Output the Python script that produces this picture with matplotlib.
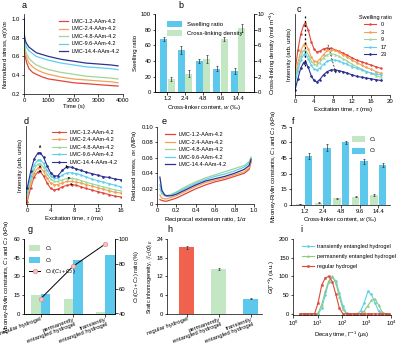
import matplotlib
matplotlib.use("Agg")
import matplotlib.pyplot as plt
import numpy as np

plt.rcParams['font.family'] = ['Liberation Sans', 'DejaVu Sans']
plt.rcParams['font.size'] = 4.3
plt.rcParams['axes.linewidth'] = 0.5
plt.rcParams['mathtext.fontset'] = 'custom'
plt.rcParams['mathtext.rm'] = 'Liberation Sans'
plt.rcParams['mathtext.it'] = 'Liberation Sans:italic'

# ---------------- data ----------------
colors5 = ['#E0463A', '#F4A259', '#9FD49A', '#5ED0EE', '#2E3192']
lmc_labels = ['LMC-1.2-AAm-4.2', 'LMC-2.4-AAm-4.2', 'LMC-4.8-AAm-4.2',
              'LMC-9.6-AAm-4.2', 'LMC-14.4-AAm-4.2']
crosslinker = ['1.2', '2.4', '4.8', '9.6', '14.4']

# (a) stress relaxation
t_a = [0, 5, 20, 50, 100, 200, 350, 500, 750, 1000, 1500, 2000, 2500, 3000, 3500, 3800]
a_12 = [1.0, 0.78, 0.68, 0.60, 0.54, 0.47, 0.43, 0.41, 0.38, 0.36, 0.34, 0.32, 0.31, 0.30, 0.29, 0.285]
a_24 = [1.0, 0.80, 0.71, 0.64, 0.59, 0.53, 0.49, 0.46, 0.43, 0.41, 0.38, 0.36, 0.35, 0.34, 0.33, 0.32]
a_48 = [1.0, 0.82, 0.75, 0.68, 0.63, 0.58, 0.54, 0.51, 0.48, 0.46, 0.43, 0.41, 0.39, 0.38, 0.37, 0.36]
a_96 = [1.0, 0.85, 0.80, 0.74, 0.70, 0.66, 0.63, 0.60, 0.58, 0.56, 0.53, 0.51, 0.49, 0.48, 0.47, 0.46]
a_144 = [1.0, 0.87, 0.82, 0.77, 0.74, 0.70, 0.67, 0.64, 0.62, 0.60, 0.57, 0.55, 0.53, 0.52, 0.51, 0.50]

# (b) swelling ratio & cross-linking density
swelling = [68, 54, 40, 30, 27]
swelling_err = [3, 5, 3, 3, 4]
xlink_density = [1.7, 2.4, 4.3, 6.8, 8.2]
xlink_err = [0.2, 0.4, 0.5, 0.3, 0.5]

# (c) NMR intensity vs swelling ratio
tau_c = [0, 0.6, 1.2, 1.8, 2.2, 2.8, 3.4, 4.0, 4.6, 5.2, 6.0, 6.8, 7.6, 8.4,
         9.2, 10.0, 11.0, 12.0, 13.0, 14.0, 15.0, 16.0, 17.0, 18.0]
c_sr0 = [0.29, 0.55, 0.75, 0.86, 0.89, 0.80, 0.66, 0.57, 0.53, 0.54, 0.57, 0.58, 0.575, 0.56,
         0.54, 0.52, 0.49, 0.46, 0.43, 0.41, 0.39, 0.37, 0.35, 0.33]
c_sr3 = [0.22, 0.40, 0.54, 0.62, 0.64, 0.57, 0.47, 0.42, 0.41, 0.44, 0.50, 0.55, 0.56, 0.55,
         0.53, 0.50, 0.47, 0.43, 0.40, 0.37, 0.34, 0.32, 0.29, 0.27]
c_sr9 = [0.185, 0.35, 0.48, 0.55, 0.56, 0.50, 0.42, 0.38, 0.37, 0.40, 0.46, 0.50, 0.51, 0.50,
         0.48, 0.45, 0.42, 0.38, 0.35, 0.32, 0.29, 0.27, 0.24, 0.22]
c_sr17 = [0.14, 0.30, 0.43, 0.50, 0.51, 0.45, 0.37, 0.32, 0.31, 0.33, 0.38, 0.42, 0.43, 0.43,
          0.42, 0.40, 0.38, 0.35, 0.33, 0.31, 0.29, 0.27, 0.26, 0.25]
c_sr23 = [0.06, 0.20, 0.33, 0.40, 0.41, 0.34, 0.24, 0.18, 0.16, 0.19, 0.25, 0.29, 0.31, 0.31,
          0.30, 0.29, 0.27, 0.25, 0.23, 0.22, 0.21, 0.20, 0.19, 0.18]
swelling_labels = ['0', '3', '9', '17', '23']

# (d) NMR intensity vs cross-linker
tau_d = [0, 0.6, 1.2, 1.8, 2.2, 2.8, 3.4, 4.0, 4.6, 5.2, 6.0, 6.8, 7.6, 8.4,
         9.2, 10.0, 11.0, 12.0, 13.0, 14.0, 15.0, 16.0]
d_12 = [0.03, 0.21, 0.35, 0.41, 0.42, 0.36, 0.27, 0.20, 0.18, 0.19, 0.22, 0.24, 0.25, 0.24,
        0.22, 0.20, 0.18, 0.16, 0.14, 0.12, 0.10, 0.09]
d_24 = [0.08, 0.27, 0.40, 0.46, 0.47, 0.42, 0.33, 0.27, 0.25, 0.25, 0.27, 0.29, 0.29, 0.28,
        0.27, 0.25, 0.23, 0.21, 0.19, 0.17, 0.15, 0.14]
d_48 = [0.12, 0.31, 0.45, 0.51, 0.52, 0.47, 0.38, 0.32, 0.29, 0.29, 0.31, 0.33, 0.33, 0.32,
        0.30, 0.28, 0.26, 0.24, 0.22, 0.20, 0.18, 0.17]
d_96 = [0.16, 0.36, 0.50, 0.56, 0.57, 0.52, 0.43, 0.36, 0.33, 0.33, 0.37, 0.40, 0.40, 0.39,
        0.37, 0.35, 0.32, 0.30, 0.28, 0.26, 0.24, 0.22]
d_144 = [0.20, 0.42, 0.58, 0.65, 0.66, 0.60, 0.49, 0.40, 0.36, 0.36, 0.43, 0.48, 0.47, 0.45,
         0.43, 0.41, 0.39, 0.37, 0.35, 0.34, 0.32, 0.31]

# (e) Mooney-Rivlin plot
x_e = [0.03, 0.05, 0.08, 0.1, 0.15, 0.2, 0.3, 0.4, 0.5, 0.6, 0.7, 0.8, 0.9, 0.95, 0.97]
e_12 = [0.006, 0.005, 0.004, 0.004, 0.006, 0.008, 0.014, 0.020, 0.025, 0.029, 0.032, 0.036, 0.040, 0.045, 0.055]
e_24 = [0.012, 0.008, 0.007, 0.007, 0.009, 0.011, 0.017, 0.023, 0.028, 0.031, 0.034, 0.038, 0.042, 0.047, 0.056]
e_48 = [0.020, 0.013, 0.011, 0.011, 0.013, 0.016, 0.023, 0.029, 0.034, 0.038, 0.042, 0.046, 0.050, 0.055, 0.061]
e_96 = [0.025, 0.015, 0.011, 0.010, 0.012, 0.015, 0.021, 0.027, 0.032, 0.036, 0.039, 0.043, 0.048, 0.053, 0.059]
e_144 = [0.035, 0.018, 0.012, 0.011, 0.011, 0.013, 0.019, 0.025, 0.030, 0.033, 0.036, 0.040, 0.045, 0.050, 0.058]

# (f) Mooney-Rivlin constants
f_c1 = [1.0, 2.2, 6.4, 8.0, 9.6]
f_c1_err = [0.3, 0.4, 0.5, 0.5, 0.6]
f_c2 = [47, 55, 60, 42, 38]
f_c2_err = [2.5, 3.5, 1.5, 2.5, 2]

# (g) hydrogels
hydrogels = ['regular hydrogel', 'permanently\nentangled hydrogel', 'transiently\nentangled hydrogel']
g_c1 = [14.5, 12, 1]
g_c2 = [16, 43, 47]
g_ratio = [52, 78, 96]

# (h) static inhomogeneity
h_vals = [21.3, 14.3, 4.8]
h_err = [0.4, 0.3, 0.2]

# (i) decay time distribution
tau_i = [2.0, 2.79, 3.89, 5.43, 7.59, 10.6, 14.8, 20.7, 28.8, 40.3, 56.2, 78.5, 110,
         153, 214, 299, 417, 582, 813, 1135, 1585, 2213, 3090, 4315, 6026, 8414]
i_trans = [0, 0, 0, 0, 0, 0, 15, 50, 85, 98, 88, 55, 20, 2, 0, 0, 0, 8, 30, 60, 52, 30, 8, 0, 0, 0]
i_perm = [0, 0, 0, 0, 0, 2, 25, 60, 88, 100, 82, 45, 12, 0, 0, 0, 0, 0, 8, 22, 36, 40, 24, 5, 0, 0]
i_reg = [0, 0, 0, 0, 0, 30, 76, 96, 100, 86, 52, 15, 0, 0, 0, 0, 0, 0, 0, 0, 0, 0, 0, 0, 0, 0]

bar_blue = '#5BC8EC'
bar_green = '#C3E6C3'
h_colors = ['#F0624D', '#C3E6C3', '#5BC8EC']

# ---------------- figure ----------------
W, H = 400, 343
fig = plt.figure(figsize=(4.0, 3.43), dpi=100)


def ax_px(l, t, r, b):
    return fig.add_axes([l / W, 1 - b / H, (r - l) / W, (b - t) / H])


def style(ax, right=False):
    ax.spines['top'].set_visible(False)
    if not right:
        ax.spines['right'].set_visible(False)
    ax.tick_params(direction='out', length=1.8, width=0.5, pad=1, labelsize=4.3)


def letter(x, y, s):
    fig.text(x / W, 1 - y / H, s, fontsize=6.5, ha='left', va='center')


LAB = 4.3
LEG = 4.0
CAT = 3.2
ekw = dict(elinewidth=0.5, capsize=0.8, capthick=0.5, ecolor='#333333')

# a
ax = ax_px(24, 14.3, 123, 94)
for y, c, lab in zip([a_12, a_24, a_48, a_96, a_144], colors5, lmc_labels):
    ax.plot(t_a, y, color=c, lw=0.9, label=lab)
ax.set_xlim(0, 4000)
ax.set_ylim(0.2, 1.05)
ax.set_xticks([0, 1000, 2000, 3000, 4000])
ax.set_yticks([0.2, 0.4, 0.6, 0.8, 1.0])
ax.set_xlabel('Time (s)', fontsize=LAB, labelpad=1)
ax.set_ylabel(r'Normalized stress, $\sigma(t)/\sigma_0$', fontsize=LAB, labelpad=1.5)
ax.legend(loc='upper right', bbox_to_anchor=(1.0, 0.99), frameon=False, fontsize=LEG,
          handlelength=1.6, handletextpad=0.6, labelspacing=0.45, borderpad=0.2)
style(ax)
letter(22, 6, 'a')

# b
ax = ax_px(155, 14, 254, 92.3)
xb = np.arange(len(crosslinker))
w = 0.4
ax.bar(xb - 0.21, swelling, w, color=bar_blue, label='Swelling ratio',
       yerr=swelling_err, error_kw=ekw)
ax2 = ax.twinx()
ax2.bar(xb + 0.21, xlink_density, w, color=bar_green, label='Cross-linking density',
        yerr=xlink_err, error_kw=ekw)
ax.set_xlim(-0.7, 4.89)
ax.set_ylim(0, 100)
ax2.set_ylim(0, 10)
ax.set_yticks([0, 20, 40, 60, 80, 100])
ax2.set_yticks([0, 2, 4, 6, 8, 10])
ax.set_xticks(xb)
ax.set_xticklabels(crosslinker)
ax.set_xlabel(r'Cross-linker content, $w$ (‰)', fontsize=LAB, labelpad=1)
ax.set_ylabel('Swelling ratio', fontsize=LAB, labelpad=2)
ax2.set_ylabel(r'Cross-linking density (mol m$^{-3}$)', fontsize=LAB, labelpad=2.5)
style(ax, right=True)
style(ax2, right=True)
h1, l1 = ax.get_legend_handles_labels()
h2, l2 = ax2.get_legend_handles_labels()
ax2.legend(h1 + h2, l1 + l2, loc='upper center', bbox_to_anchor=(0.5, 0.98), frameon=False,
           fontsize=LEG + 0.3, handlelength=2.6, handleheight=1.2, labelspacing=0.5)
letter(178, 5, 'b')

# c
ax = ax_px(295, 14, 390, 95)
markers = ['o', 'D', '^', 'o', 'D']
for y, c, lab, m in zip([c_sr0, c_sr3, c_sr9, c_sr17, c_sr23], colors5, swelling_labels, markers):
    ax.plot(tau_c, y, color=c, lw=0.8, marker=m, ms=1.4, mew=0.3, label=lab)
ax.plot([2.2, 2.2], [0.36, 0.99], color='black', lw=0.9, ls=(0, (1.5, 2.0)))
ax.annotate('', xy=(8.8, 0.23), xytext=(6.8, 0.65),
            arrowprops=dict(arrowstyle='->', lw=0.5, color='black', ls=(0, (2, 3)), mutation_scale=3))
ax.set_xlim(0, 20)
ax.set_ylim(0, 1.0)
ax.set_xticks([0, 4, 8, 12, 16, 20])
ax.set_yticks([])
ax.set_xlabel(r'Excitation time, $\tau$ (ms)', fontsize=LAB, labelpad=1)
ax.set_ylabel('Intensity (arb. units)', fontsize=LAB, labelpad=2)
ax.legend(loc='upper right', bbox_to_anchor=(1.06, 1.04), frameon=False, fontsize=LEG,
          title='Swelling ratio', title_fontsize=LEG, handlelength=2.2,
          handletextpad=0.8, labelspacing=0.45, borderpad=0.2)
style(ax)
letter(297, 9, 'c')

# d
ax = ax_px(26, 126, 121, 204)
for y, c, lab, m in zip([d_12, d_24, d_48, d_96, d_144], colors5, lmc_labels, markers):
    ax.plot(tau_d, y, color=c, lw=0.8, marker=m, ms=1.4, mew=0.3, label=lab)
for (x0, y0, y1) in [(2.2, 0.70, 0.79), (2.2, 0.44, 0.50), (2.2, 0.38, 0.44)]:
    ax.annotate('', xy=(x0, y1), xytext=(x0, y0),
                arrowprops=dict(arrowstyle='->', lw=0.5, color='black', mutation_scale=3))
for (x0, y0, x1, y1) in [(7.0, 0.44, 6.6, 0.50), (7.4, 0.30, 7.0, 0.35), (7.8, 0.22, 7.4, 0.27)]:
    ax.annotate('', xy=(x1, y1), xytext=(x0, y0),
                arrowprops=dict(arrowstyle='->', lw=0.5, color='black', mutation_scale=3))
ax.set_xlim(-0.2, 16)
ax.set_ylim(0, 1.0)
ax.set_xticks([0, 4, 8, 12, 16])
ax.set_yticks([])
ax.set_xlabel(r'Excitation time, $\tau$ (ms)', fontsize=LAB, labelpad=1)
ax.set_ylabel('Intensity (arb. units)', fontsize=LAB, labelpad=2)
ax.legend(loc='upper right', bbox_to_anchor=(1.0, 1.0), frameon=False, fontsize=LEG,
          handlelength=2.4, handletextpad=0.6, labelspacing=0.45, borderpad=0.2)
style(ax)
letter(24, 121, 'd')

# e
ax = ax_px(157, 126.7, 254, 204.3)
for y, c, lab in zip([e_12, e_24, e_48, e_96, e_144], colors5, lmc_labels):
    ax.plot(x_e, y, color=c, lw=0.9, label=lab)
ax.set_xlim(0, 1.0)
ax.set_ylim(0, 0.10)
ax.set_xticks([0, 0.2, 0.4, 0.6, 0.8, 1.0])
ax.set_xticklabels(['0', '0.2', '0.4', '0.6', '0.8', '1.0'])
ax.set_yticks([0, 0.02, 0.04, 0.06, 0.08, 0.10])
ax.set_yticklabels(['0', '0.02', '0.04', '0.06', '0.08', '0.10'])
ax.set_xlabel(r'Reciprocal extension ratio, 1/$\alpha$', fontsize=LAB, labelpad=1)
ax.set_ylabel(r'Reduced stress, $\sigma_R$ (MPa)', fontsize=LAB, labelpad=1.5)
ax.legend(loc='upper left', bbox_to_anchor=(0.04, 0.98), frameon=False, fontsize=LEG,
          handlelength=1.8, handletextpad=0.6, labelspacing=0.45, borderpad=0.2)
style(ax)
letter(162, 121, 'e')

# f
ax = ax_px(291, 126.7, 390, 205)
xf = np.arange(len(crosslinker))
ax.bar(xf - 0.23, f_c1, 0.42, color=bar_green, label=r'$C_1$', yerr=f_c1_err, error_kw=ekw)
ax.bar(xf + 0.23, f_c2, 0.42, color=bar_blue, label=r'$C_2$', yerr=f_c2_err, error_kw=ekw)
ax.set_xlim(-0.72, 4.63)
ax.set_ylim(0, 75)
ax.set_yticks([0, 15, 30, 45, 60, 75])
ax.set_xticks(xf)
ax.set_xticklabels(crosslinker)
ax.set_xlabel(r'Cross-linker content, $w$ (‰)', fontsize=LAB, labelpad=1)
ax.set_ylabel(r'Mooney-Rivlin constants, $C_1$ and $C_2$ (kPa)', fontsize=LAB, labelpad=1.5)
ax.legend(loc='upper right', bbox_to_anchor=(0.92, 0.96), frameon=False, fontsize=LEG,
          handlelength=2.2, handleheight=1.3, labelspacing=0.5)
style(ax)
letter(292, 121, 'f')

# g
ax = ax_px(24, 239, 115, 313.5)
xg = np.arange(len(hydrogels))
ax.bar(xg - 0.15, g_c1, 0.29, color=bar_green, label=r'$C_1$')
ax.bar(xg + 0.15, g_c2, 0.29, color=bar_blue, label=r'$C_2$')
ax2 = ax.twinx()
ax2.plot(xg, g_ratio, color='black', lw=0.7, marker='o', ms=3.2, mfc='#F6C2C2',
         mec='#E58A8A', mew=0.5, label=r'$C_2/(C_1+C_2)$')
ax.set_xlim(-0.52, 2.3)
ax.set_ylim(0, 60)
ax2.set_ylim(40, 100)
ax.set_yticks([0, 15, 30, 45, 60])
ax2.set_yticks([40, 60, 80, 100])
ax.set_xticks(xg)
ax.set_xticklabels(hydrogels, rotation=20, ha='right', rotation_mode='anchor', fontsize=CAT,
                   linespacing=0.95)
ax.set_ylabel(r'Mooney-Rivlin constants, $C_1$ and $C_2$ (kPa)', fontsize=LAB, labelpad=1.5)
ax2.set_ylabel(r'$C_2/(C_1+C_2)$ ratio (%)', fontsize=LAB - 0.3, labelpad=2.5)
style(ax, right=True)
style(ax2, right=True)
ax.tick_params(axis='x', pad=0.6)
h1, l1 = ax.get_legend_handles_labels()
h2, l2 = ax2.get_legend_handles_labels()
ax2.legend(h1 + h2, l1 + l2, loc='upper left', bbox_to_anchor=(0.0, 1.0), frameon=False,
           fontsize=LEG, handlelength=2.0, handleheight=1.2, labelspacing=0.5)
letter(28, 229, 'g')

# h
ax = ax_px(167, 239, 262, 313.5)
xh = np.arange(len(hydrogels))
ax.bar(xh, h_vals, 0.46, color=h_colors, yerr=h_err, error_kw=ekw)
ax.set_xlim(-0.62, 2.35)
ax.set_ylim(0, 24)
ax.set_yticks([0, 6, 12, 18, 24])
ax.set_xticks(xh)
ax.set_xticklabels(hydrogels, rotation=20, ha='right', rotation_mode='anchor', fontsize=CAT,
                   linespacing=0.95)
ax.set_ylabel(r'Static inhomogeneity, $\langle I_C(q)\rangle_E$', fontsize=LAB - 0.3, labelpad=1)
style(ax)
ax.tick_params(axis='x', pad=0.6)
letter(167, 229, 'h')

# i
ax = ax_px(293, 239, 391, 315)
ax.plot(tau_i, i_trans, color='#5ED0EE', lw=0.8, marker='D', ms=1.4, mew=0.3,
        label='transiently entangled hydrogel')
ax.plot(tau_i, i_perm, color='#8CCB7E', lw=0.8, marker='^', ms=1.5, mew=0.3,
        label='permanently entangled hydrogel')
ax.plot(tau_i, i_reg, color='#E0463A', lw=0.8, marker='s', ms=1.4, mew=0.3,
        label='regular hydrogel')
ax.set_xscale('log')
ax.set_xlim(1, 1e4)
ax.set_ylim(-3, 200)
ax.set_yticks([0, 50, 100, 150, 200])
ax.set_xticks([1, 10, 100, 1000, 10000])
ax.minorticks_off()
ax.set_xlabel(r'Decay time, $\Gamma^{-1}$ ($\mu$s)', fontsize=LAB, labelpad=1)
ax.set_ylabel(r'$G(\Gamma^{-1})$ (a.u.)', fontsize=LAB, labelpad=1.5)
ax.legend(loc='upper left', bbox_to_anchor=(0.05, 0.98), frameon=False, fontsize=LEG,
          handlelength=2.2, handletextpad=0.6, labelspacing=0.9, borderpad=0.2)
style(ax)
letter(300, 229, 'i')

fig.savefig('out.png', dpi=100)
